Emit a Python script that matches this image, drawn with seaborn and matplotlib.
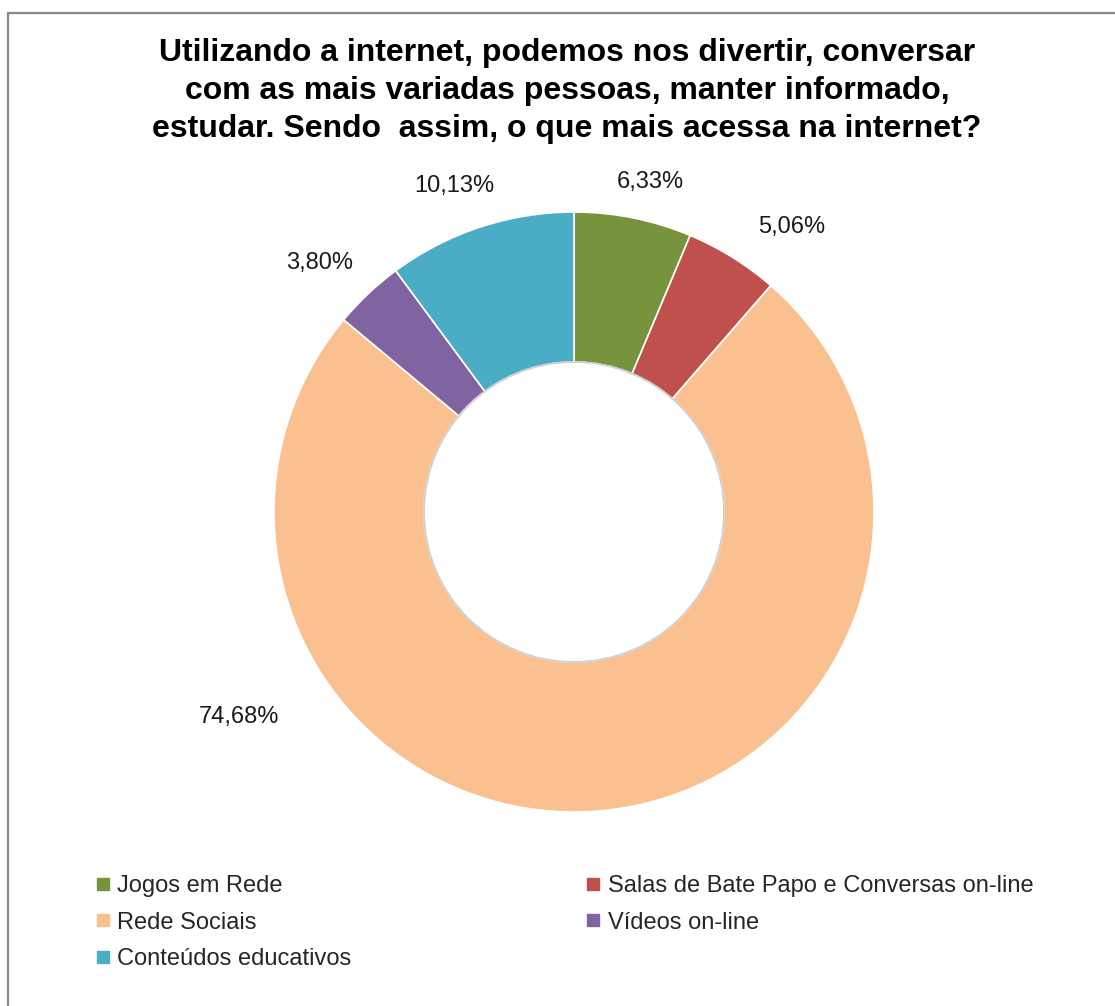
import numpy as np
import matplotlib
matplotlib.use("Agg")
import matplotlib.pyplot as plt
from matplotlib.lines import Line2D
import seaborn as sns

# data
categories = ["Jogos em Rede", "Salas de Bate Papo e Conversas on-line",
              "Rede Sociais", "Vídeos on-line", "Conteúdos educativos"]
percent = [6.33, 5.06, 74.68, 3.80, 10.13]
labels = ["6,33%", "5,06%", "74,68%", "3,80%", "10,13%"]
colors = ["#77933C", "#C0504D", "#FAC090", "#8064A2", "#4BACC6"]

title = ("Utilizando a internet, podemos nos divertir, conversar\n"
         "com as mais variadas pessoas, manter informado,\n"
         "estudar. Sendo  assim, o que mais acessa na internet?")

sns.set_theme(style="white")
plt.rcParams['font.family'] = ['Liberation Sans', 'DejaVu Sans']

W, H = 1115, 1006
fig = plt.figure(figsize=(W / 100, H / 100), dpi=100)
fig.patch.set_facecolor("white")

# donut centre and radius in pixels
cx, cy, R = 574, 512, 300
ax = fig.add_axes([(cx - R) / W, (H - cy - R) / H, 2 * R / W, 2 * R / H])

wedges, _ = ax.pie(percent, colors=sns.color_palette(colors), startangle=90,
                   counterclock=False, radius=1,
                   wedgeprops=dict(width=0.5, edgecolor="white", linewidth=1.2))
ax.set_xlim(-1, 1)
ax.set_ylim(-1, 1)
ax.set_aspect("equal")
ax.axis("off")
# subtle inner shadow
ax.add_patch(plt.Circle((0, 0), 0.5, fill=False, edgecolor="#cfcfcf", lw=1.3))

# label placement (angle in degrees, distance as multiple of radius)
label_pos = [(77.0, 1.13), (52.6, 1.196), (211.5, 1.31), (135.6, 1.186), (110.1, 1.157)]
for lab, (ang, dist) in zip(labels, label_pos):
    t = np.deg2rad(ang)
    ax.text(dist * np.cos(t), dist * np.sin(t), lab, ha="center", va="center",
            fontsize=17, color="#1a1a1a", clip_on=False)

fig.text(567 / W, 1 - 38 / H, title, ha="center", va="top", fontsize=23.0,
         fontweight="bold", linespacing=1.35, color="black")

# legend (column-major order)
order = [0, 2, 4, 1, 3]
handles = [Line2D([], [], marker="s", linestyle="", markersize=8,
                  color=colors[i]) for i in order]
fig.legend(handles, [categories[i] for i in order], ncol=2, frameon=False,
           loc="upper left", bbox_to_anchor=(97 / W, 1 - 875 / H),
           fontsize=17, handlelength=0.5, handletextpad=0.35,
           labelspacing=0.62, columnspacing=10.0, borderpad=0, borderaxespad=0)

# chart area frame (top and left edges)
fig.add_artist(Line2D([8 / W, 1], [1 - 13 / H, 1 - 13 / H], color="#888888", lw=1.6))
fig.add_artist(Line2D([8 / W, 8 / W], [0, 1 - 13 / H], color="#888888", lw=1.6))

fig.savefig("out.png", dpi=100, facecolor="white")
